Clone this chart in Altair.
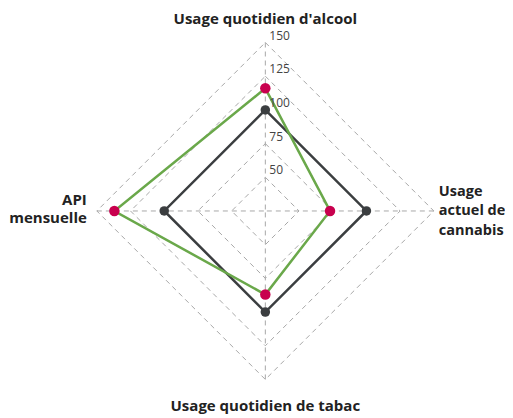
import altair as alt
import pandas as pd

axes = ["Usage quotidien d'alcool", "Usage\nactuel de\ncannabis", "Usage quotidien de tabac", "API\nmensuelle"]
angles = [0, 90, 180, 270]
reference = [100, 100, 100, 100]
observed = [116, 73, 87, 137]
levels = [50, 75, 100, 125, 150]
tick_labels = ["50", "75", "100", "125", "150"]
origin = 25
outer = 150

# series rows (closed polygons)
rows = []
for name, vals in [("reference", reference), ("observed", observed)]:
    for k in range(len(angles) + 1):
        i = k % len(angles)
        rows.append({"series": name, "order": k, "angle": angles[i], "value": vals[i]})
series_df = pd.DataFrame(rows)

grid_rows = []
for lv in levels:
    for k in range(len(angles) + 1):
        i = k % len(angles)
        grid_rows.append({"level": lv, "order": k, "angle": angles[i], "value": lv})
grid_df = pd.DataFrame(grid_rows)

spoke_df = pd.DataFrame({"angle": angles, "value": [outer] * len(angles), "label": axes})
tick_df = pd.DataFrame({"value": levels, "label": tick_labels, "angle": [0] * len(levels)})

calc = dict(
    px=f"(datum.value - {origin}) * sin(datum.angle * PI / 180)",
    py=f"(datum.value - {origin}) * cos(datum.angle * PI / 180)",
)

xs = alt.Scale(domain=[-190.9, 177.8], nice=False, zero=False)
ys = alt.Scale(domain=[-153.6, 150.6], nice=False, zero=False)
X = alt.X("px:Q", scale=xs, axis=None)
Y = alt.Y("py:Q", scale=ys, axis=None)

grid = alt.Chart(grid_df).transform_calculate(**calc).mark_line(
    color="#a8a8a8", strokeWidth=1, strokeDash=[5, 4]
).encode(x=X, y=Y, detail="level:N", order="order:Q")

spokes = alt.Chart(spoke_df).transform_calculate(**calc).mark_rule(
    color="#a8a8a8", strokeWidth=1, strokeDash=[5, 4]
).encode(x=X, y=Y, x2=alt.datum(0), y2=alt.datum(0))

ref_line = alt.Chart(series_df).transform_filter("datum.series == 'reference'").transform_calculate(**calc).mark_line(
    color="#3b3e40", strokeWidth=2.5
).encode(x=X, y=Y, order="order:Q")

ref_pts = alt.Chart(series_df).transform_filter("datum.series == 'reference' && datum.order < 4").transform_calculate(**calc).mark_point(
    filled=True, color="#3b3e40", size=90, opacity=1
).encode(x=X, y=Y)

obs_line = alt.Chart(series_df).transform_filter("datum.series == 'observed'").transform_calculate(**calc).mark_line(
    color="#6aa84a", strokeWidth=2.5
).encode(x=X, y=Y, order="order:Q")

obs_pts = alt.Chart(series_df).transform_filter("datum.series == 'observed' && datum.order < 4").transform_calculate(**calc).mark_point(
    filled=True, color="#c8004e", size=110, opacity=1
).encode(x=X, y=Y)

ticks = alt.Chart(tick_df).transform_calculate(**calc).mark_text(
    align="left", baseline="middle", dx=4, dy=-7, font="Open Sans", fontSize=12, color="#444444"
).encode(x=X, y=Y, text="label:N")

def axis_label(idx, size=15, **kw):
    return alt.Chart(spoke_df.iloc[[idx]]).transform_calculate(**calc).mark_text(
        font="Open Sans", fontSize=size, fontWeight="bold", color="#222222", lineBreak="\n",
        baseline="alphabetic", **kw
    ).encode(x=X, y=Y, text="label:N")

lab_top = axis_label(0, align="center", dy=-19)
lab_right = axis_label(1, size=14.5, align="left", dx=5, dy=-15, lineHeight=19.5)
lab_bottom = axis_label(2, align="center", dy=32)
lab_left = axis_label(3, align="right", dx=-10, dy=-6, lineHeight=18.5)

chart = alt.layer(
    grid, spokes, ref_line, obs_line, ref_pts, obs_pts, ticks, lab_top, lab_right, lab_bottom, lab_left
).properties(width=497, height=410, padding=0, autosize=alt.AutoSizeParams(type="none")).configure_view(stroke=None)

chart.save("out.html", embed_options={"renderer": "svg", "actions": False})
